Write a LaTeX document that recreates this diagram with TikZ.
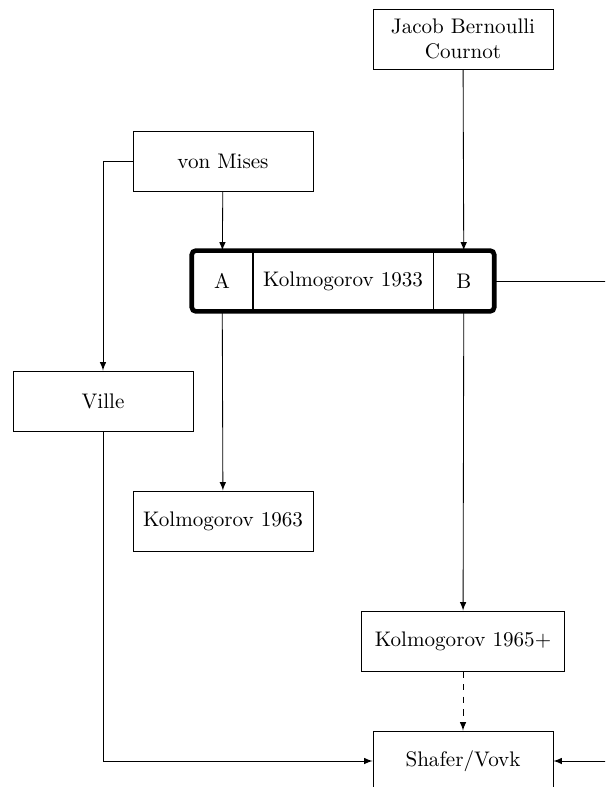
\documentclass[tikz,border=0pt]{standalone}
\usepackage{tikz}
\usetikzlibrary{positioning}
\usetikzlibrary{calc}
\usetikzlibrary{arrows, arrows.meta}

\begin{document}
\begin{tikzpicture}[
    auto,
    histBox/.style={rectangle,
    draw=black,
    minimum width=3cm,
    minimum height=1cm,
    inner xsep=6.5pt,
    align=center},
    cellBox/.style={rectangle,
    draw=black,
    minimum height=1cm,
    inner xsep=2pt},
    >=latex
    ]
    \clip[use as bounding box] (-5.7167,-8.4333) rectangle (4.3667,4.6833);
    \node[cellBox, minimum width=3cm] (k33) {Kolmogorov 1933};
    \node[cellBox, minimum width=1cm, left=0pt of k33] (A) {A};
    \node[cellBox, minimum width=1cm, right=0pt of k33] (B) {B};
    \draw[line width=2.2pt, rounded corners=2pt] (A.north west) rectangle (B.south east);
    \node[histBox] (jb) [xshift=2cm, yshift=4.03cm] {Jacob Bernoulli\\Cournot};
    \draw[->] (jb) -- (B);
    \node[histBox] (vm) [xshift=-2cm, yshift=2cm] {von Mises};
    \draw[->] (vm) -- (A);
    \node[histBox] (ville) [xshift=-4cm, yshift=-2cm] {Ville};
    \draw[->] (vm.west) -| (ville.north);
    \node[histBox, inner xsep=2pt] (k63) [xshift=-2cm, yshift=-4cm] {Kolmogorov 1963};
    \draw[->] (A) -- (k63);
    \node[histBox] (k65) [xshift=2cm, yshift=-6cm] {Kolmogorov 1965+};
    \draw[->] (B) -- (k65);
    \node[histBox] (sv) [xshift=2cm, yshift=-8cm] {Shafer/Vovk};
    \draw[->, dashed] (k65) -- (sv);
    \draw[->] (ville.south) |- (sv.west);
    \coordinate (out) at (5,0);
    \draw[->] (B.east) -- (out) |- (sv.east);
  \end{tikzpicture}
\end{document}
